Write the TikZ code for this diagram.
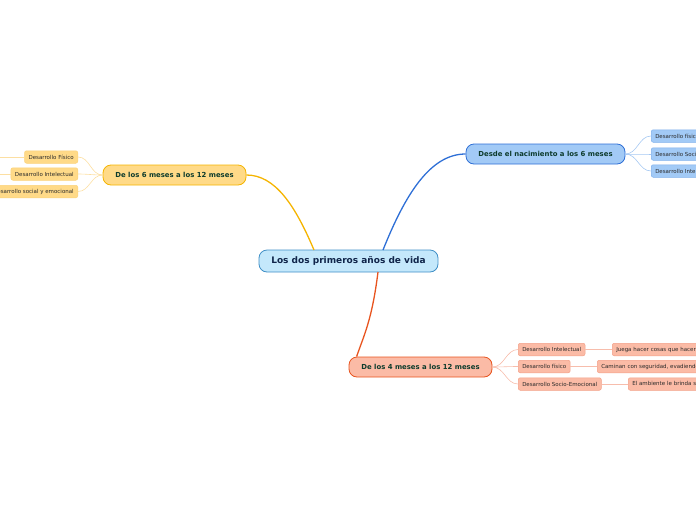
\documentclass[tikz,border=0pt]{standalone}
\usepackage{fontspec}
\setsansfont{DejaVu Sans}
\usetikzlibrary{calc, positioning}
\definecolor{rootbg}{HTML}{C4E8FB}
\definecolor{rootborder}{HTML}{3F8FC6}
\definecolor{roottext}{HTML}{10254A}
\definecolor{bluebg}{HTML}{A2CAF6}
\definecolor{blueborder}{HTML}{2E6FD6}
\definecolor{bluesub}{HTML}{7FB0EC}
\definecolor{yellowbg}{HTML}{FFDA88}
\definecolor{yellowborder}{HTML}{F5B400}
\definecolor{yellowsub}{HTML}{FBD27A}
\definecolor{orangebg}{HTML}{FBBBA6}
\definecolor{orangeborder}{HTML}{E8541F}
\definecolor{orangesub}{HTML}{F3A088}
\definecolor{branchtext}{HTML}{0D3B2C}
\definecolor{leaftext}{HTML}{2A2A2A}

\begin{document}
\begin{tikzpicture}[
    x=1pt, y={(0pt,-1pt)},
    font=\sffamily,
    root/.style={draw=rootborder, fill=rootbg, rounded corners=8pt, line width=0.8pt, minimum width=179pt, minimum height=22pt, inner sep=0pt, text=roottext, font=\sffamily\bfseries\fontsize{9}{10}\selectfont},
    branch/.style={draw=#1border, fill=#1bg, rounded corners=8pt, line width=0.8pt, minimum height=20pt, inner sep=0pt, text=branchtext, font=\sffamily\bfseries\fontsize{6.9}{8}\selectfont},
    leaf/.style={draw=#1sub, fill=#1bg, rounded corners=2pt, line width=0.5pt, minimum height=12.5pt, inner ysep=0pt, inner xsep=4pt, text=leaftext, font=\sffamily\fontsize{5.5}{6.5}\selectfont},
    link/.style={line width=1.3pt, draw=#1border},
    sublink/.style={line width=0.6pt, draw=#1sub!70}
]

    % Page frame
    \useasboundingbox (0,0) rectangle (696,520);
    \clip (0,0) rectangle (696,520);

    % 1. Central topic
    \node[root] (root) at (348.5,261) {Los dos primeros años de vida};

    % 2. Main branches
    \node[branch=blue, minimum width=159pt] (birth) at (545.5,154) {Desde el nacimiento a los 6 meses};
    \node[branch=yellow, minimum width=143pt] (sixtw) at (174.5,175) {De los 6 meses a los 12 meses};
    \node[branch=orange, minimum width=143pt] (fourtw) at (420.5,367) {De los 4 meses a los 12 meses};

    % Branch connectors
    \draw[link=blue] (383,250) .. controls (405,195) and (430,154) .. (birth.west);
    \draw[link=yellow] (314,250) .. controls (295,205) and (275,175) .. (sixtw.east);
    \draw[link=orange] (378,272) .. controls (372,320) and (364,335) .. ([xshift=8pt]fourtw.north west);

    % 3. Blue leaves (right edge)
    \node[leaf=blue, anchor=west] (bfis) at (651,136) {Desarrollo físico};
    \node[leaf=blue, anchor=west] (bsoc) at (651,154) {Desarrollo Social};
    \node[leaf=blue, anchor=west] (bint) at (651,171) {Desarrollo Intelectual};
    \foreach \leafname in {bfis, bsoc, bint}
        \draw[sublink=blue] (birth.east) to[out=0, in=180] (\leafname.west);

    % 4. Yellow leaves (left edge)
    \node[leaf=yellow, anchor=east] (yfis) at (78,157) {Desarrollo Físico};
    \node[leaf=yellow, anchor=east] (yint) at (78,174) {Desarrollo Intelectual};
    \node[leaf=yellow, anchor=east] (ysoc) at (78,191.5) {Desarrollo social y emocional};
    \foreach \leafname in {yfis, yint, ysoc}
        \draw[sublink=yellow] (sixtw.west) to[out=180, in=0] (\leafname.east);
    \coordinate (yfisout) at (-20,157);
    \coordinate (yintout) at (-20,174);
    \draw[sublink=yellow] (yfis.west) -- (yfisout);
    \draw[sublink=yellow] (yint.west) -- (yintout);

    % 5. Orange leaves
    \node[leaf=orange, anchor=west] (oint) at (518,349.5) {Desarrollo Intelectual};
    \node[leaf=orange, anchor=west] (ofis) at (518,366.5) {Desarrollo físico};
    \node[leaf=orange, anchor=west] (osoc) at (518,384) {Desarrollo Socio-Emocional};
    \foreach \leafname in {oint, ofis, osoc}
        \draw[sublink=orange] (fourtw.east) to[out=0, in=180] (\leafname.west);

    % Orange details (cut by right edge)
    \node[leaf=orange, anchor=west, text width=130pt, align=left] (ointd) at (612,349.5) {Juega hacer cosas que hacer};
    \node[leaf=orange, anchor=west, text width=130pt, align=left] (ofisd) at (597,366.5) {Caminan con seguridad, evadiendo};
    \node[leaf=orange, anchor=west, text width=130pt, align=left] (osocd) at (628,384) {El ambiente le brinda seguridad};
    \draw[sublink=orange] (oint.east) -- (ointd.west);
    \draw[sublink=orange] (ofis.east) -- (ofisd.west);
    \draw[sublink=orange] (osoc.east) -- (osocd.west);

\end{tikzpicture}
\end{document}
